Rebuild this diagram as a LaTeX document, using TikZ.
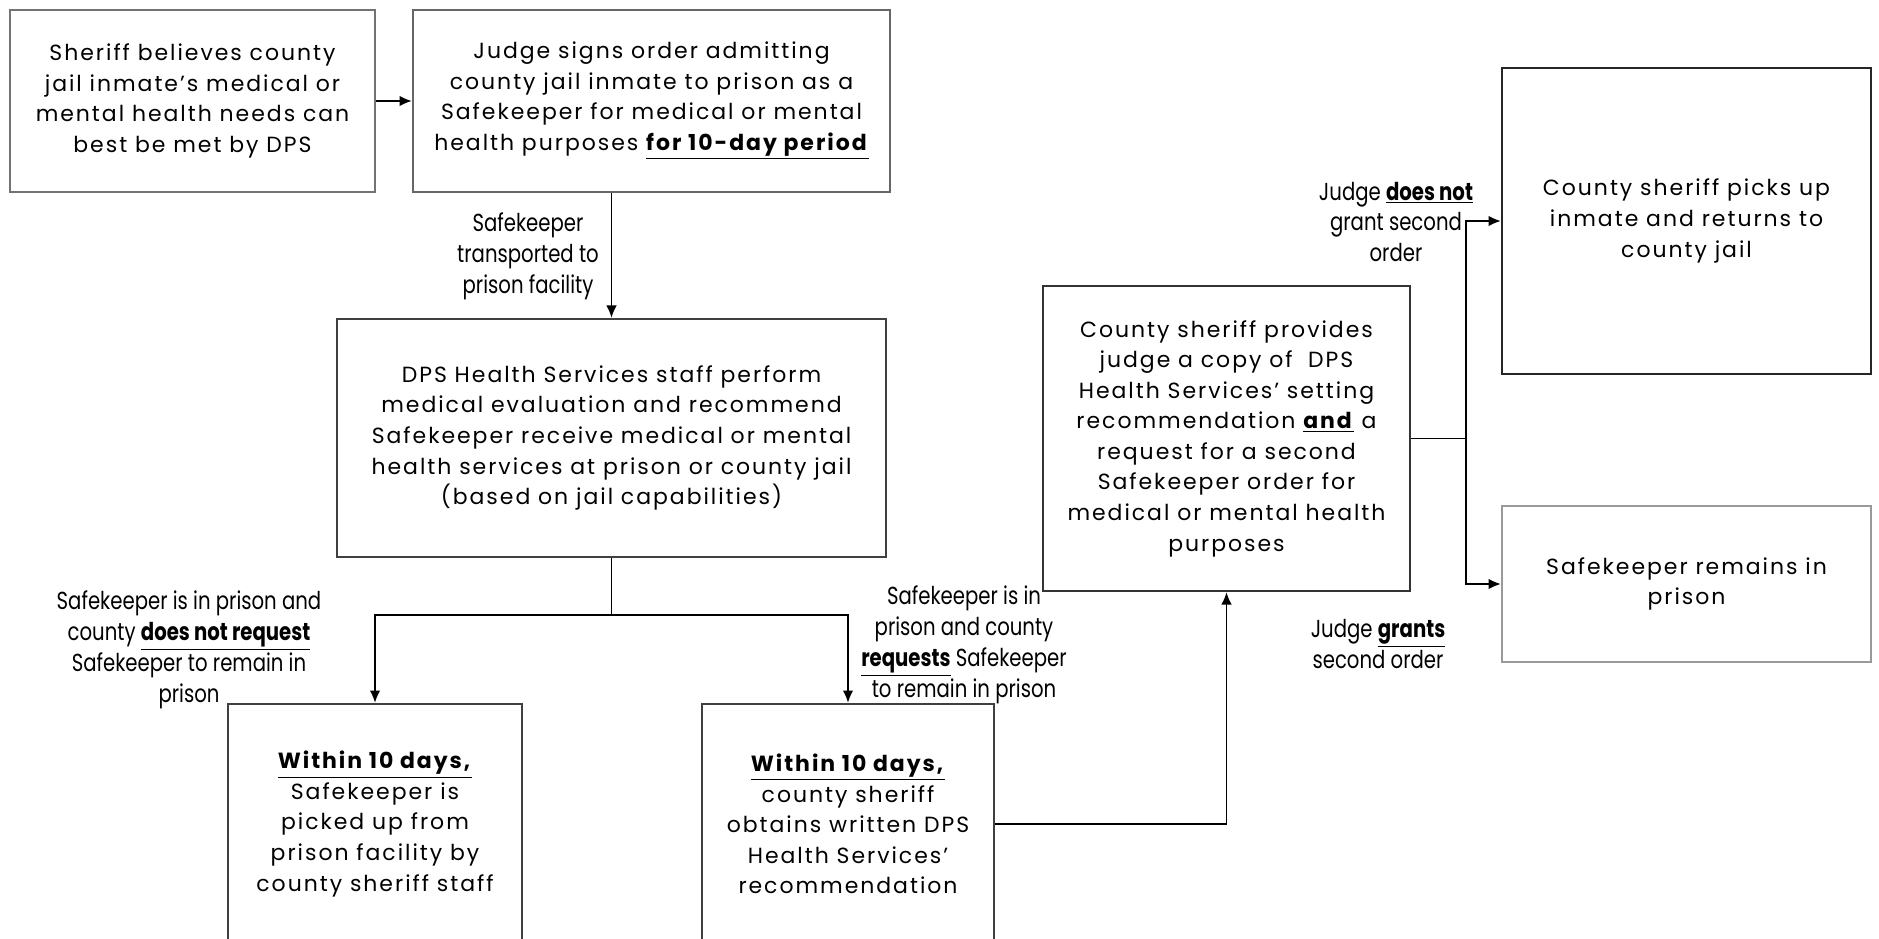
\documentclass[tikz,border=0pt]{standalone}
\usepackage{fontspec}
\setmainfont{Poppins}[LetterSpace=9]
\newfontfamily\labelfont{Poppins}[FakeStretch=0.8]
\usetikzlibrary{arrows.meta}

\newcommand{\ulb}[1]{\underline{\textbf{#1}}}

\tikzset{
  stage/.style={draw=#1, line width=1.4pt, align=center, inner sep=0pt,
    font=\fontsize{12.5}{17.4}\selectfont},
  stage/.default=black!70,
  cond/.style={align=center, inner sep=0pt,
    font=\labelfont\fontsize{14}{17.6}\selectfont},
}

\begin{document}
\begin{tikzpicture}[x=0.02cm,
            y=-0.02cm,
            >={Latex[length=7pt,width=6pt]},
            line width=0.85pt]

        \clip (0,0) rectangle (1879,939);
        \fill[white] (0,0) rectangle (1879,939);

        \node[stage=black!55, minimum width=7.3cm,  minimum height=3.64cm] (belief)  at (192.5,101)
            {Sheriff believes county\\ jail inmate’s medical or\\ mental health needs can\\ best be met by DPS};
        \node[stage=black!60, minimum width=9.54cm, minimum height=3.64cm] (order)   at (651.5,101)
            {Judge signs order admitting\\ county jail inmate to prison as a\\ Safekeeper for medical or mental\\ health purposes \ulb{for 10-day period}};
        \node[stage=black!75, minimum width=10.98cm, minimum height=4.76cm] (eval)   at (611.5,438)
            {DPS Health Services staff perform\\ medical evaluation and recommend\\ Safekeeper receive medical or mental\\ health services at prison or county jail\\ (based on jail capabilities)};
        \node[stage=black!75, minimum width=5.88cm, minimum height=4.8cm]  (pickup)  at (375,824)
            {\ulb{Within 10 days,}\\ Safekeeper is\\ picked up from\\ prison facility by\\ county sheriff staff};
        \node[stage=black!75, minimum width=5.84cm, minimum height=4.8cm]  (obtain)  at (848,824)
            {\ulb{Within 10 days,}\\ county sheriff\\ obtains written DPS\\ Health Services’\\ recommendation};
        \node[stage=black!80, minimum width=7.34cm, minimum height=6.1cm]  (request) at (1226.5,438.5)
            {County sheriff provides\\ judge a copy of~ DPS\\ Health Services’ setting\\ recommendation \ulb{and} a\\ request for a second\\ Safekeeper order for\\ medical or mental health\\ purposes};
        \node[stage=black!85, minimum width=7.38cm, minimum height=6.12cm] (return)  at (1686.5,221)
            {County sheriff picks up\\ inmate and returns to\\ county jail};
        \node[stage=black!40, minimum width=7.38cm, minimum height=3.12cm] (remain)  at (1686.5,584)
            {Safekeeper remains in\\ prison};

        \coordinate (split) at (611.5,615);
        \coordinate (fork)  at (1466,438.5);

        \draw[->] (belief) -- (order);
        \draw[->] (order.south -| eval.north) -- (eval.north);
        \draw     (eval.south) -- (split);
        \draw[->] (split) -| (pickup.north);
        \draw[->] (split) -| (obtain.north);
        \draw[->] (obtain.east) -| (request.south);
        \draw     (request.east) -- (fork);
        \draw[->] (fork) |- (return.west);
        \draw[->] (fork) |- (remain.west);

        \node[cond] (moved)  at (528,256)  {Safekeeper\\ transported to\\ prison facility};
        \node[cond] (norq)   at (189,650)  {Safekeeper is in prison and\\ county \ulb{does not request}\\ Safekeeper to remain in\\ prison};
        \node[cond] (rq)     at (964,645)  {Safekeeper is in\\ prison and county\\ \ulb{requests} Safekeeper\\ to remain in prison};
        \node[cond] (denied) at (1396,222) {Judge \ulb{does not}\\ grant second\\ order};
        \node[cond] (grant)  at (1378,644) {Judge \ulb{grants}\\ second order};

\end{tikzpicture}
\end{document}
